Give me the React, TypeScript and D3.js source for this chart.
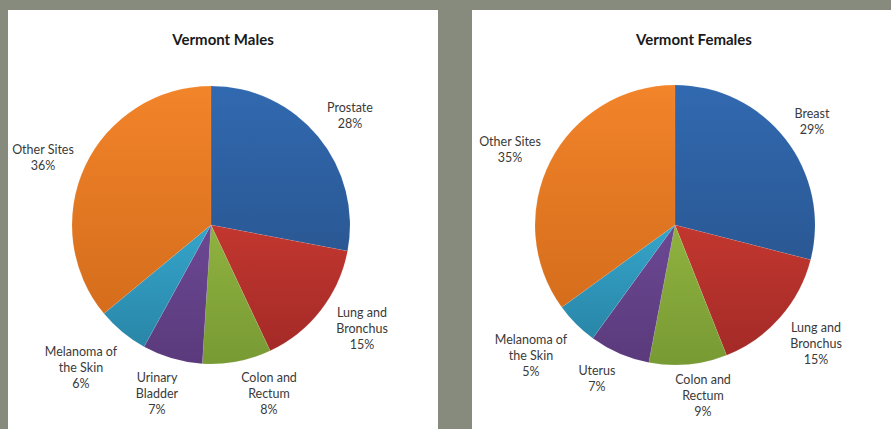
import React from "react";
import * as d3 from "d3";

const maleCategories = ["Prostate", "Lung and Bronchus", "Colon and Rectum", "Urinary Bladder", "Melanoma of the Skin", "Other Sites"];
const maleValues = [28, 15, 8, 7, 6, 36];
const femaleCategories = ["Breast", "Lung and Bronchus", "Colon and Rectum", "Uterus", "Melanoma of the Skin", "Other Sites"];
const femaleValues = [29, 15, 9, 7, 5, 35];

const maleLabelLines = [["Prostate"], ["Lung and", "Bronchus"], ["Colon and", "Rectum"], ["Urinary", "Bladder"], ["Melanoma of", "the Skin"], ["Other Sites"]];
const femaleLabelLines = [["Breast"], ["Lung and", "Bronchus"], ["Colon and", "Rectum"], ["Uterus"], ["Melanoma of", "the Skin"], ["Other Sites"]];

const sliceColors = [
  ["#3169b0", "#2a5894"],
  ["#c2372f", "#a42a27"],
  ["#8fb23f", "#789a34"],
  ["#6c4894", "#5a3a7c"],
  ["#35a5ca", "#2986a8"],
  ["#f2842a", "#d56d1c"],
];

type PanelProps = {
  id: string;
  x: number;
  width: number;
  title: string;
  titleX: number;
  cx: number;
  cy: number;
  r: number;
  categories: string[];
  values: number[];
  lines: string[][];
  labelPos: [number, number][];
};

function PiePanel(p: PanelProps) {
  const pie = d3.pie<number>().sort(null).value((d) => d)(p.values);
  const arc = d3.arc<d3.PieArcDatum<number>>().innerRadius(0).outerRadius(p.r);
  const total = d3.sum(p.values);
  return (
    <g>
      <rect x={p.x} y={10} width={p.width} height={419} fill="#ffffff" />
      <defs>
        {sliceColors.map((c, i) => (
          <linearGradient key={i} id={`${p.id}-g${i}`} x1="0" y1="0" x2="0" y2="1">
            <stop offset="0%" stopColor={c[0]} />
            <stop offset="100%" stopColor={c[1]} />
          </linearGradient>
        ))}
      </defs>
      <text x={p.titleX} y={45} textAnchor="middle" fontFamily="Lato, 'Open Sans', sans-serif" fontWeight="bold" fontSize={15} fill="#1a1a1a">
        {p.title}
      </text>
      <g transform={`translate(${p.cx},${p.cy})`}>
        {pie.map((d, i) => (
          <path key={p.categories[i]} d={arc(d) || ""} fill={`url(#${p.id}-g${i})`} stroke="#ffffff" strokeOpacity={0.15} strokeWidth={0.5} />
        ))}
      </g>
      {pie.map((d, i) => {
        const [lx, ly] = p.labelPos[i];
        const pct = `${Math.round((p.values[i] / total) * 100)}%`;
        const lines = [...p.lines[i], pct];
        return (
          <text key={i} x={lx} y={ly} textAnchor="middle" fontFamily="Lato, 'Open Sans', sans-serif" fontSize={12.5} fill="#3a3a3a">
            {lines.map((t, j) => (
              <tspan key={j} x={lx} dy={j === 0 ? 0 : 16}>
                {t}
              </tspan>
            ))}
          </text>
        );
      })}
    </g>
  );
}

export default function App() {
  return (
    <svg width={891} height={429} style={{ position: "absolute", left: 0, top: 0 }}>
      <rect x={0} y={0} width={891} height={429} fill="#878b7e" />
      <PiePanel
        id="m"
        x={8}
        width={430}
        title="Vermont Males"
        titleX={223}
        cx={211}
        cy={225}
        r={139}
        categories={maleCategories}
        values={maleValues}
        lines={maleLabelLines}
        labelPos={[[350, 112], [362, 317], [269, 382], [157, 382], [81, 356], [43, 154]]}
      />
      <PiePanel
        id="f"
        x={472}
        width={419}
        title="Vermont Females"
        titleX={694}
        cx={675}
        cy={225}
        r={140}
        categories={femaleCategories}
        values={femaleValues}
        lines={femaleLabelLines}
        labelPos={[[812, 118], [816, 332], [703, 384], [597, 375], [531, 344], [510, 146]]}
      />
    </svg>
  );
}
